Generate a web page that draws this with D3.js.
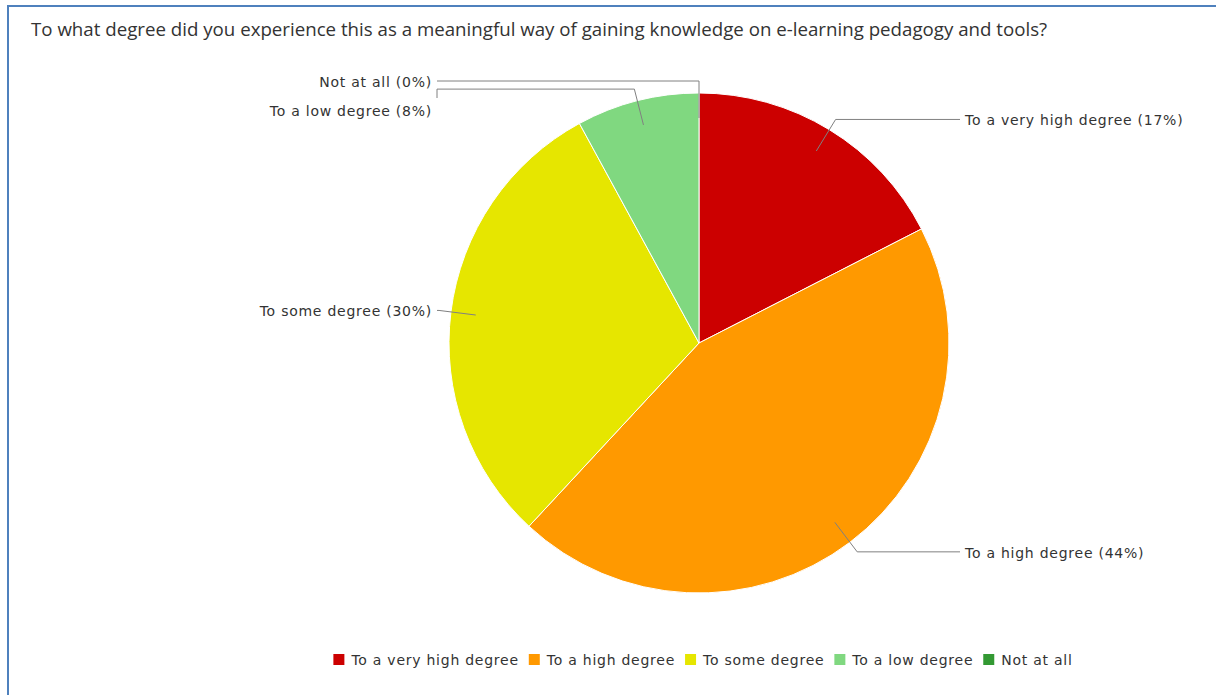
<!DOCTYPE html>
<html>
<head>
<meta charset="utf-8">
<script src="https://cdn.jsdelivr.net/npm/d3@7"></script>
<style>
  body { margin: 0; background: #fff; }
  svg { display: block; }
  text { fill: #333; }
  .lbl { font-family: 'DejaVu Sans', Verdana, sans-serif; font-size: 14px; letter-spacing: 0.75px; }
</style>
</head>
<body>
<svg id="chart" width="1216" height="695"></svg>
<script>
  // answers (respondent counts)
  let categories = ["To a very high degree", "To a high degree", "To some degree", "To a low degree", "Not at all"]
  let counts = [11, 28, 19, 5, 0]
  let colors = ["#cc0000", "#ff9900", "#e6e600", "#80d880", "#339933"]
  let title = "To what degree did you experience this as a meaningful way of gaining knowledge on e-learning pedagogy and tools?"

  let svg = d3.select("#chart")
  let W = 1216, H = 695
  let cx = 699, cy = 343, R = 250

  function draw_frame() {
    svg.append("path")
      .attr("d", `M8,${H} V6 H${W}`)
      .attr("fill", "none")
      .attr("stroke", "#4f81bd")
      .attr("stroke-width", 2)

    let t = svg.append("text")
      .attr("x", 31).attr("y", 36)
      .style("font-family", "'Open Sans', sans-serif")
      .style("font-size", "16px")
      .text(title)
    let len = t.node().getComputedTextLength()
    t.style("font-size", (16 * 1017 / len).toFixed(2) + "px")
  }

  function draw_pie() {
    let total = d3.sum(counts)
    let data = categories.map((c, i) => ({name: c, value: counts[i], color: colors[i]}))
    let arcs = d3.pie().sort(null).value(d => d.value)(data)
    let arc = d3.arc().innerRadius(0).outerRadius(R)

    let g = svg.append("g").attr("transform", `translate(${cx},${cy})`)
    g.selectAll("path.slice")
      .data(arcs.filter(a => a.value > 0)).enter()
      .append("path")
      .attr("class", "slice")
      .attr("d", arc)
      .attr("fill", d => d.data.color)
      .attr("stroke", "#fff")
      .attr("stroke-width", 1)

    // label placement
    let labels = arcs.map(a => {
      let mid = (a.startAngle + a.endAngle) / 2
      let s = Math.sin(mid), c = -Math.cos(mid)
      return {
        text: `${a.data.name} (${Math.round(100 * a.value / total)}%)`,
        left: mid > Math.PI,
        inner: [s * R * 0.9, c * R * 0.9],
        elbow: [s * (R + 12), c * (R + 12)],
        y: c * (R + 12)
      }
    })
    for (let side of [true, false]) {
      let grp = labels.filter(l => l.left === side).sort((a, b) => a.y - b.y)
      for (let i = 1; i < grp.length; i++) {
        if (grp[i].y < grp[i - 1].y + 29) grp[i].y = grp[i - 1].y + 29
      }
    }

    let lx = R + 16
    labels.forEach(l => {
      let tx = l.left ? -lx - 1 : lx
      let ex = l.left ? tx + 5 : tx - 5
      let pts = [l.inner, l.elbow, [ex, l.elbow[1]]]
      if (Math.abs(l.y - l.elbow[1]) > 1) pts.push([ex, l.y - 12])
      g.append("path")
        .attr("d", d3.line()(pts))
        .attr("fill", "none")
        .attr("stroke", "#808080")
        .attr("stroke-width", 1)
      g.append("text")
        .attr("class", "lbl")
        .attr("x", tx)
        .attr("y", l.y)
        .attr("dy", "0.42em")
        .attr("text-anchor", l.left ? "end" : "start")
        .text(l.text)
    })
  }

  function draw_legend() {
    let lg = svg.append("g")
    let x = 0
    categories.forEach((c, i) => {
      lg.append("rect")
        .attr("x", x).attr("y", -6)
        .attr("width", 11).attr("height", 11)
        .attr("fill", colors[i])
      let t = lg.append("text")
        .attr("class", "lbl")
        .attr("x", x + 18).attr("y", 0)
        .attr("dy", "0.38em")
        .text(c)
      x += 18 + t.node().getComputedTextLength() + 10
    })
    let w = x - 10
    lg.attr("transform", `translate(${703 - w / 2},660)`)
  }

  draw_frame()
  draw_pie()
  draw_legend()
</script>
</body>
</html>
